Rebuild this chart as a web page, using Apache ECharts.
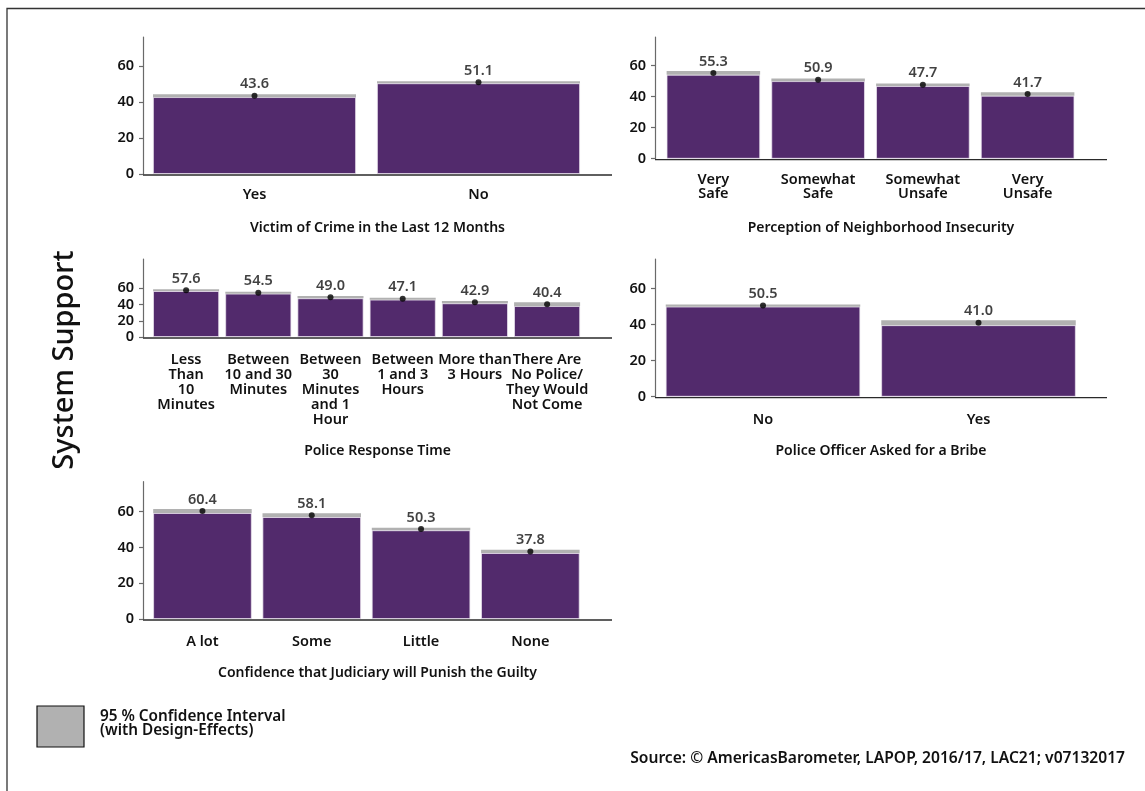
<!DOCTYPE html>
<html>
<head>
<meta charset="utf-8">
<script src="https://cdn.jsdelivr.net/npm/echarts@6/dist/echarts.min.js"></script>
<style>
html,body{margin:0;padding:0;background:#fff;}
#chart{width:1145px;height:791px;}
</style>
</head>
<body>
<div id="chart"></div>
<script>
// ---------- DATA ----------
const yTicks = [0, 20, 40, 60];

const title1 = 'Victim of Crime in the Last 12 Months';
const cats1 = ['Yes', 'No'];
const val1 = [43.6, 51.1];
const lo1 = [42.8, 50.5];
const hi1 = [44.4, 51.7];

const title2 = 'Perception of Neighborhood Insecurity';
const cats2 = ['Very\nSafe', 'Somewhat\nSafe', 'Somewhat\nUnsafe', 'Very\nUnsafe'];
const val2 = [55.3, 50.9, 47.7, 41.7];
const lo2 = [54.1, 50.0, 46.9, 40.6];
const hi2 = [56.5, 51.8, 48.5, 42.8];

const title3 = 'Police Response Time';
const cats3 = ['Less\nThan\n10\nMinutes', 'Between\n10 and 30\nMinutes', 'Between\n30\nMinutes\nand 1\nHour',
               'Between\n1 and 3\nHours', 'More than\n3 Hours', 'There Are\nNo Police/\nThey Would\nNot Come'];
const val3 = [57.6, 54.5, 49.0, 47.1, 42.9, 40.4];
const lo3 = [56.5, 53.3, 47.6, 45.9, 41.4, 38.0];
const hi3 = [58.7, 55.7, 50.4, 48.3, 44.4, 42.8];

const title4 = 'Police Officer Asked for a Bribe';
const cats4 = ['No', 'Yes'];
const val4 = [50.5, 41.0];
const lo4 = [49.9, 39.6];
const hi4 = [51.1, 42.4];

const title5 = 'Confidence that Judiciary will Punish the Guilty';
const cats5 = ['A lot', 'Some', 'Little', 'None'];
const val5 = [60.4, 58.1, 50.3, 37.8];
const lo5 = [59.3, 57.0, 49.6, 36.9];
const hi5 = [61.5, 59.2, 51.0, 38.7];

const yAxisTitle = 'System Support';
const legendLine1 = '95 % Confidence Interval';
const legendLine2 = '(with Design-Effects)';
const sourceText = 'Source: \u00A9 AmericasBarometer, LAPOP, 2016/17, LAC21; v07132017';

// ---------- LAYOUT (positions / styles) ----------
const FONT = '"Noto Sans", "Open Sans", sans-serif';
const FW = 600;
const PURPLE = '#522a6c';
const GRAY = '#b1b1b1';
const TXT = '#111';

const panels = [
  {title: title1, cats: cats1, val: val1, lo: lo1, hi: hi1,
   axisX: 143, axisEnd: 612, left: 142.5, width: 448, top: 37, height: 137, max: 76.3, barW: 203,
   labMargin: 14, lineH: 14, titleY: 228},
  {title: title2, cats: cats2, val: val2, lo: lo2, hi: hi2,
   axisX: 655, axisEnd: 1107, left: 661, width: 419, top: 37, height: 121.7, max: 78.5, barW: 93.5,
   labMargin: 14, lineH: 14, titleY: 228},
  {title: title3, cats: cats3, val: val3, lo: lo3, hi: hi3,
   axisX: 143, axisEnd: 612, left: 150, width: 433.2, top: 259, height: 78, max: 96, barW: 66,
   labMargin: 15, lineH: 15, titleY: 451},
  {title: title4, cats: cats4, val: val4, lo: lo4, hi: hi4,
   axisX: 655, axisEnd: 1107, left: 655.25, width: 431, top: 259, height: 137.7, max: 76.3, barW: 194.5,
   labMargin: 16, lineH: 14, titleY: 451},
  {title: title5, cats: cats5, val: val5, lo: lo5, hi: hi5,
   axisX: 143, axisEnd: 612, left: 147.8, width: 437.2, top: 481.7, height: 137.3, max: 76.8, barW: 98.5,
   labMargin: 16, lineH: 14, titleY: 673}
];

const grids = [], xAxes = [], yAxes = [], series = [], graphics = [];

panels.forEach((p, i) => {
  grids.push({left: p.left, top: p.top, width: p.width, height: p.height, containLabel: false});
  xAxes.push({
    type: 'category', gridIndex: i, data: p.cats,
    axisLine: {show: false}, axisTick: {show: false},
    axisLabel: {interval: 0, margin: p.labMargin, fontFamily: FONT, fontSize: 14.5, fontWeight: FW,
                color: TXT, lineHeight: p.lineH}
  });
  yAxes.push({
    type: 'value', gridIndex: i, min: 0, max: p.max,
    offset: p.left - p.axisX,
    axisLine: {show: true, lineStyle: {color: '#6a6a6a', width: 1.2}},
    axisTick: {show: true, length: 4, customValues: yTicks, lineStyle: {color: '#6a6a6a', width: 1.2}},
    axisLabel: {customValues: yTicks, margin: 9, fontFamily: FONT, fontSize: 14.5, fontWeight: FW, color: TXT},
    splitLine: {show: false}
  });
  series.push({
    type: 'bar', xAxisIndex: i, yAxisIndex: i, stack: 'ci' + i, barWidth: p.barW,
    data: p.lo, itemStyle: {color: PURPLE, borderColor: 'rgba(235,228,240,0.9)', borderWidth: 0.8},
    silent: true, animation: false
  });
  series.push({
    type: 'bar', xAxisIndex: i, yAxisIndex: i, stack: 'ci' + i, barWidth: p.barW,
    data: p.hi.map((h, k) => +(h - p.lo[k]).toFixed(2)), itemStyle: {color: GRAY},
    silent: true, animation: false
  });
  series.push({
    type: 'scatter', xAxisIndex: i, yAxisIndex: i, data: p.val,
    symbol: 'circle', symbolSize: 6, itemStyle: {color: '#000'}, z: 10,
    label: {show: true, position: 'top', distance: 1, formatter: d => d.value.toFixed(1),
            fontFamily: FONT, fontSize: 14.5, fontWeight: FW, color: TXT},
    silent: true, animation: false
  });
  const y0 = p.top + p.height + 1;
  graphics.push({type: 'line', shape: {x1: p.axisX, y1: y0, x2: p.axisEnd, y2: y0},
                 style: {stroke: '#2a2a2a', lineWidth: 1.3}, z: 5});
  graphics.push({type: 'text', x: (p.axisX + p.axisEnd) / 2, y: p.titleY,
                 style: {text: p.title, fontFamily: FONT, fontSize: 14, fontWeight: FW, fill: TXT,
                         textAlign: 'center', textVerticalAlign: 'middle'}});
});

// outer frame
graphics.push({type: 'rect', shape: {x: 7, y: 8.5, width: 1300, height: 900},
               style: {fill: 'none', stroke: '#333', lineWidth: 1.3}});
// y title
graphics.push({type: 'text', x: 65, y: 360, rotation: Math.PI / 2,
               style: {text: yAxisTitle, fontFamily: FONT, fontSize: 29, fontWeight: 500, fill: '#111',
                       textAlign: 'center', textVerticalAlign: 'middle'}});
// legend
graphics.push({type: 'rect', shape: {x: 37, y: 706, width: 47, height: 41},
               style: {fill: GRAY, stroke: '#111', lineWidth: 1.2}});
graphics.push({type: 'text', x: 100, y: 717,
               style: {text: legendLine1, fontFamily: FONT, fontSize: 15.3, fontWeight: FW, fill: TXT,
                       textVerticalAlign: 'middle'}});
graphics.push({type: 'text', x: 100, y: 731,
               style: {text: legendLine2, fontFamily: FONT, fontSize: 15.3, fontWeight: FW, fill: TXT,
                       textVerticalAlign: 'middle'}});
// source
graphics.push({type: 'text', x: 1125, y: 759,
               style: {text: sourceText, fontFamily: FONT, fontSize: 15.6, fontWeight: FW, fill: TXT,
                       textAlign: 'right', textVerticalAlign: 'middle'}});

const chart = echarts.init(document.getElementById('chart'), null, {renderer: 'canvas'});
chart.setOption({
  animation: false,
  backgroundColor: '#fff',
  grid: grids, xAxis: xAxes, yAxis: yAxes, series: series,
  graphic: graphics
});
</script>
</body>
</html>
